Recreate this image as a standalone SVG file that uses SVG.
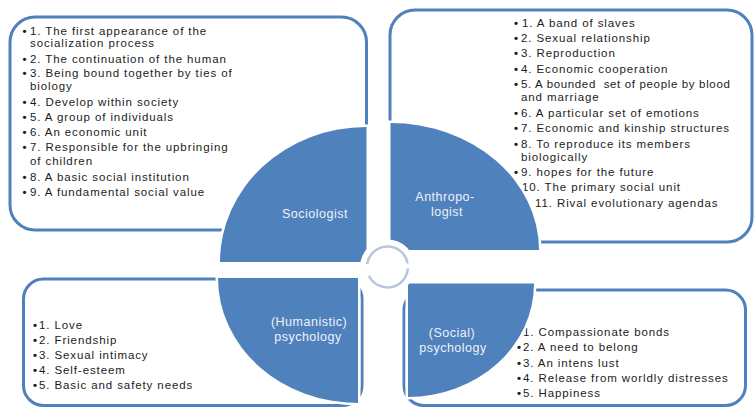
<svg xmlns="http://www.w3.org/2000/svg" width="754" height="408" viewBox="0 0 754 408">
  <style>
    .box { fill: #ffffff; stroke: #4f81bd; stroke-width: 3; }
    .quarter { fill: #4f81bd; stroke: #ffffff; stroke-width: 5; paint-order: stroke; }
    .item { font-family: "Liberation Sans", Arial, sans-serif; font-size: 11.5px; letter-spacing: 0.9px; fill: #1c1c1c; }
    .item .b { font-weight: bold; }
    .item .tight { letter-spacing: 0.65px; }
    .label { font-family: "Liberation Sans", Arial, sans-serif; font-size: 12.5px; letter-spacing: 0.5px; fill: #eef2f8; text-anchor: middle; }
    .ring { fill: none; stroke: #b7c6dd; stroke-width: 2.5; }
  </style>
  <rect width="754" height="408" fill="#ffffff"/>

  <!-- Sociologist: upper left -->
  <g id="node-sociologist">
    <rect class="box" x="10" y="17" width="356.5" height="213" rx="25" ry="25"/>
    <g class="item">
      <text x="22.5" y="35"><tspan class="b">•</tspan><tspan x="30">1. The first appearance of the</tspan></text>
      <text x="30" y="47">socialization process</text>
      <text x="22.5" y="63"><tspan class="b">•</tspan><tspan x="30">2. The continuation of the human</tspan></text>
      <text x="22.5" y="77"><tspan class="b">•</tspan><tspan x="30">3. Being bound together by ties of</tspan></text>
      <text x="30" y="90">biology</text>
      <text x="22.5" y="106"><tspan class="b">•</tspan><tspan x="30">4. Develop within society</tspan></text>
      <text x="22.5" y="121"><tspan class="b">•</tspan><tspan x="30">5. A group of individuals</tspan></text>
      <text x="22.5" y="136"><tspan class="b">•</tspan><tspan x="30">6. An economic unit</tspan></text>
      <text x="22.5" y="151"><tspan class="b">•</tspan><tspan x="30">7. Responsible for the upbringing</tspan></text>
      <text x="30" y="165">of children</text>
      <text x="22.5" y="181"><tspan class="b">•</tspan><tspan x="30">8. A basic social institution</tspan></text>
      <text x="22.5" y="196"><tspan class="b">•</tspan><tspan x="30">9. A fundamental social value</tspan></text>
    </g>
    <path class="quarter" d="M 366.5 262 L 220 262 A 146.5 135 0 0 1 366.5 127 Z"/>
    <text class="label" x="315" y="218">Sociologist</text>
  </g>

  <!-- Anthropologist: upper right -->
  <g id="node-anthropologist">
    <rect class="box" x="390" y="10" width="362" height="232" rx="25" ry="25"/>
    <g class="item">
      <text x="514" y="27"><tspan class="b">•</tspan><tspan x="522">1. A band of slaves</tspan></text>
      <text x="514" y="42"><tspan class="b">•</tspan><tspan x="521">2. Sexual relationship</tspan></text>
      <text x="514" y="57"><tspan class="b">•</tspan><tspan x="521">3. Reproduction</tspan></text>
      <text x="514" y="73"><tspan class="b">•</tspan><tspan x="521">4. Economic cooperation</tspan></text>
      <text x="514" y="88" xml:space="preserve"><tspan class="b">•</tspan><tspan x="521" class="tight">5. A bounded  set of people by blood</tspan></text>
      <text x="521" y="101">and marriage</text>
      <text x="514" y="117"><tspan class="b">•</tspan><tspan x="521">6. A particular set of emotions</tspan></text>
      <text x="514" y="132"><tspan class="b">•</tspan><tspan x="521">7. Economic and kinship structures</tspan></text>
      <text x="514" y="148"><tspan class="b">•</tspan><tspan x="521">8. To reproduce its members</tspan></text>
      <text x="521" y="161">biologically</text>
      <text x="514" y="176"><tspan class="b">•</tspan><tspan x="521">9. hopes for the future</tspan></text>
      <text x="522" y="191">10. The primary social unit</text>
      <text x="535" y="207">11. Rival evolutionary agendas</text>
    </g>
    <path class="quarter" d="M 390.5 250 L 390.5 123 A 148.5 127 0 0 1 539 250 Z"/>
    <text class="label" x="445" y="201">Anthropo-</text>
    <text class="label" x="447" y="216">logist</text>
  </g>

  <!-- Humanistic psychology: lower left -->
  <g id="node-humanistic">
    <rect class="box" x="23.5" y="279" width="338.5" height="126.5" rx="20" ry="20"/>
    <g class="item">
      <text x="33" y="328.5"><tspan class="b">•</tspan><tspan x="39">1. Love</tspan></text>
      <text x="33" y="343.5"><tspan class="b">•</tspan><tspan x="39">2. Friendship</tspan></text>
      <text x="33" y="358.7"><tspan class="b">•</tspan><tspan x="39">3. Sexual intimacy</tspan></text>
      <text x="33" y="374"><tspan class="b">•</tspan><tspan x="39">4. Self-esteem</tspan></text>
      <text x="33" y="389"><tspan class="b">•</tspan><tspan x="39">5. Basic and safety needs</tspan></text>
    </g>
    <path class="quarter" d="M 358 278 L 218 278 A 140 125 0 0 0 358 403 Z"/>
    <text class="label" x="309" y="326">(Humanistic)</text>
    <text class="label" x="308" y="340.5">psychology</text>
  </g>

  <!-- Social psychology: lower right -->
  <g id="node-social">
    <rect class="box" x="404" y="290" width="341.5" height="115.5" rx="20" ry="20"/>
    <g class="item">
      <text x="517" y="336"><tspan class="b">•</tspan><tspan x="523">1. Compassionate bonds</tspan></text>
      <text x="517" y="351"><tspan class="b">•</tspan><tspan x="523">2. A need to belong</tspan></text>
      <text x="517" y="367"><tspan class="b">•</tspan><tspan x="523">3. An intens lust</tspan></text>
      <text x="517" y="382"><tspan class="b">•</tspan><tspan x="523">4. Release from worldly distresses</tspan></text>
      <text x="517" y="397"><tspan class="b">•</tspan><tspan x="523">5. Happiness</tspan></text>
    </g>
    <path class="quarter" d="M 408 283.5 L 534 283.5 A 126 113.5 0 0 1 408 397 Z"/>
    <text class="label" x="452" y="337">(Social)</text>
    <text class="label" x="453" y="351.5">psychology</text>
  </g>

  <!-- Circular arrows in the middle -->
  <g id="connectors">
    <circle cx="387.5" cy="267" r="27.5" fill="#ffffff"/>
    <path class="ring" d="M 367.2 264.2 A 20.5 20.5 0 0 1 407.7 263.4"/>
    <path class="ring" d="M 407.9 268.4 A 20.5 20.5 0 0 1 368.9 275.7"/>
  </g>
</svg>
